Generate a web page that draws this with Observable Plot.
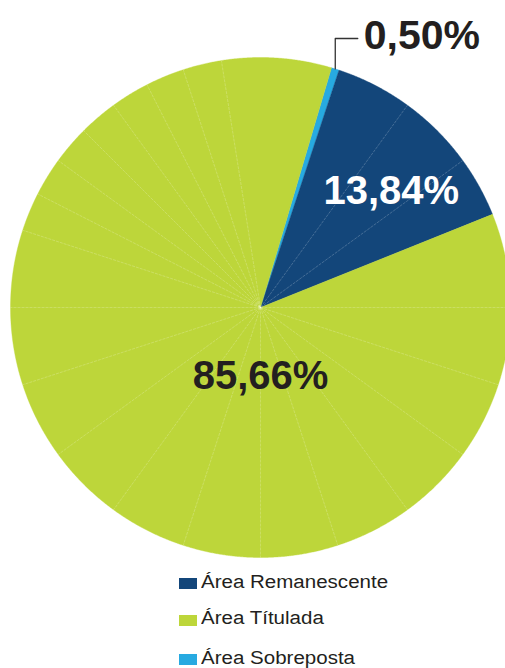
<!DOCTYPE html>
<html><head><meta charset="utf-8">
<script src="https://cdn.jsdelivr.net/npm/d3@7"></script>
<script src="https://cdn.jsdelivr.net/npm/@observablehq/plot@0.6"></script>
<style>
html,body{margin:0;padding:0;background:#fff;overflow:hidden;width:505px;height:668px}
#chart{position:absolute;left:0;top:0;width:505px;height:565px;overflow:hidden}
#legend{position:absolute;left:0;top:0;width:505px;height:668px}
.sw{position:absolute;left:179px;width:17.5px;height:11px}
.lt{position:absolute;left:200.5px;font-family:"Liberation Sans",Arial,sans-serif;font-size:18px;line-height:18px;color:#231f20;white-space:nowrap;transform:scaleX(1.14);transform-origin:0 0}
</style></head><body><div id="chart"></div><div id="legend"></div>
<script>
// ---- data ----
const categories = ["Área Remanescente", "Área Títulada", "Área Sobreposta"];
const values = [13.84, 85.66, 0.50];
const labels = ["13,84%", "85,66%", "0,50%"];
const colors = ["#13467a", "#bdd63a", "#27aae1"];
const sliceOrder = ["Área Sobreposta", "Área Remanescente", "Área Títulada"];
const spokeDegrees = [36, 54, 90, 108, 126, 144, 162, 180, 198, 216, 234, 252, 270, 288, 297, 306, 315, 324, 333, 342, 351];

// ---- layout ----
const startDeg = 16.5;
const rad = Math.PI / 180;

const data = sliceOrder.map(c => ({category: c, value: values[categories.indexOf(c)], label: labels[categories.indexOf(c)]}));
const arcs = d3.pie().sort(null).value(d => d.value)
  .startAngle(startDeg * rad).endAngle(startDeg * rad + 2 * Math.PI)(data);

const pts = [];
for (const a of arcs) {
  const n = Math.max(2, Math.ceil((a.endAngle - a.startAngle) / (Math.PI / 720)));
  pts.push({category: a.data.category, x: 0, y: 0});
  for (let i = 0; i <= n; i++) {
    const t = a.startAngle + (a.endAngle - a.startAngle) * i / n;
    pts.push({category: a.data.category, x: Math.sin(t), y: Math.cos(t)});
  }
  pts.push({category: a.data.category, x: 0, y: 0});
}
const arcOf = c => arcs.find(a => a.data.category === c);
const mid = a => (a.startAngle + a.endAngle) / 2;

// Sobreposta leader
const sob = arcOf("Área Sobreposta");
const ex = Math.sin(mid(sob)), ey = Math.cos(mid(sob));
const leaderY = 1.076, leaderRun = 0.09;
const leader = [{x: ex, y: ey}, {x: ex, y: leaderY}, {x: ex + leaderRun, y: leaderY}];

// Remanescente label
const rem = arcOf("Área Remanescente");
const remLabel = [{x: 0.7 * Math.sin(mid(rem)), y: 0.7 * Math.cos(mid(rem)), label: rem.data.label}];
const titLabel = [{x: 0, y: 0, label: arcOf("Área Títulada").data.label}];
const sobLabel = [{x: ex + leaderRun, y: leaderY, label: sob.data.label}];

const font = "'Liberation Sans', Arial, Helvetica, sans-serif";
const plot = Plot.plot({
  width: 505, height: 565, margin: 0,
  x: {domain: [-1, 1], range: [10, 510], axis: null},
  y: {domain: [-1, 1], range: [557, 57], axis: null},
  color: {domain: categories, range: colors},
  style: {background: "transparent", overflow: "hidden"},
  marks: [
    Plot.line(pts, {x: "x", y: "y", z: "category", fill: "category", stroke: "category", strokeWidth: 0.4, curve: "linear"}),
    Plot.link(spokeDegrees, {x1: () => 0, y1: () => 0, x2: d => Math.sin(d * rad), y2: d => Math.cos(d * rad),
      stroke: "#ffffff", strokeOpacity: 0.35, strokeWidth: 0.6, strokeDasharray: "3,1"}),
    Plot.line(leader, {x: "x", y: "y", stroke: "#333", strokeWidth: 1.3}),
    Plot.text(sobLabel, {x: "x", y: "y", text: "label", textAnchor: "start", dx: 6, dy: -3,
      fontSize: 41, fontWeight: "bold", fontFamily: font, fill: "#231f20"}),
    Plot.text(remLabel, {x: "x", y: "y", text: "label", dx: 11, dy: 11,
      fontSize: 40, fontWeight: "bold", fontFamily: font, fill: "#ffffff"}),
    Plot.text(titLabel, {x: "x", y: "y", text: "label", dy: 69,
      fontSize: 40, fontWeight: "bold", fontFamily: font, fill: "#231f20"})
  ]
});
document.getElementById("chart").appendChild(plot);

// ---- legend ----
const swatchTops = [577.5, 614.5, 653.5];
const textTops = [572.8, 609.1, 649.1];
const legend = document.getElementById("legend");
categories.forEach((c, i) => {
  const s = document.createElement("div");
  s.className = "sw"; s.style.top = swatchTops[i] + "px"; s.style.background = colors[i];
  const t = document.createElement("div");
  t.className = "lt"; t.style.top = textTops[i] + "px"; t.textContent = c;
  legend.appendChild(s); legend.appendChild(t);
});
</script>
</body></html>
